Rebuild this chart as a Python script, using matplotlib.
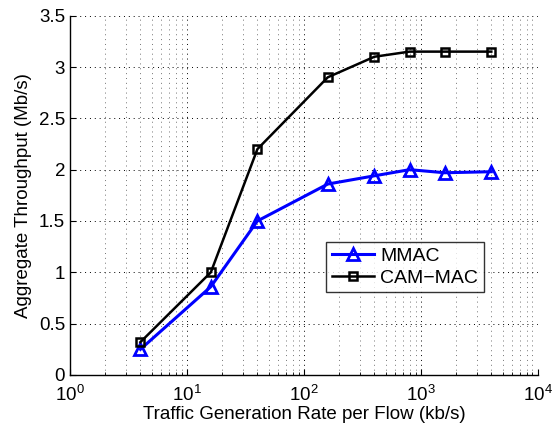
import matplotlib
matplotlib.use("Agg")
import matplotlib.pyplot as plt
from matplotlib.ticker import LogLocator, NullFormatter

plt.rcParams['font.family'] = ['Liberation Sans', 'DejaVu Sans']

rates = [4, 16, 40, 160, 400, 800, 1600, 4000]
mmac = [0.25, 0.86, 1.50, 1.86, 1.94, 2.00, 1.97, 1.98]
cam_mac = [0.32, 1.00, 2.20, 2.90, 3.10, 3.15, 3.15, 3.15]
series_labels = ["MMAC", "CAM\u2212MAC"]
y_ticks = [0, 0.5, 1, 1.5, 2, 2.5, 3, 3.5]
y_tick_labels = ['0', '0.5', '1', '1.5', '2', '2.5', '3', '3.5']
x_label = "Traffic Generation Rate per Flow (kb/s)"
y_label = "Aggregate Throughput (Mb/s)"

fig = plt.figure(figsize=(5.53, 4.30), dpi=100)
ax = fig.add_axes([0.1266, 0.128, 0.846, 0.8355])

ax.plot(rates, mmac, color='#0000ff', lw=2.2, marker='^', ms=9,
        mfc='none', mec='#0000ff', mew=2.0, label=series_labels[0], zorder=3)
ax.plot(rates, cam_mac, color='black', lw=1.8, marker='s', ms=6,
        mfc='none', mec='black', mew=1.8, label=series_labels[1], zorder=4)

ax.set_xscale('log')
ax.set_xlim(1, 1e4)
ax.set_ylim(0, 3.5)
ax.set_yticks(y_ticks, y_tick_labels)
ax.xaxis.set_major_locator(LogLocator(base=10, numticks=10))
ax.xaxis.set_minor_locator(LogLocator(base=10, subs=range(2, 10), numticks=20))
ax.xaxis.set_minor_formatter(NullFormatter())

ax.grid(True, which='major', axis='both', linestyle=(0, (1, 4)), color='black', lw=0.7)
ax.grid(True, which='minor', axis='x', linestyle=(0, (1, 4)), color='0.45', lw=0.7)

for s in ['top', 'right']:
    ax.spines[s].set_visible(False)
ax.spines['left'].set_linewidth(1.0)
ax.spines['bottom'].set_linewidth(1.0)
ax.tick_params(which='both', direction='in', labelsize=13.5)
ax.tick_params(which='major', length=4)
ax.tick_params(which='minor', length=2.5)
ax.tick_params(axis='x', pad=7)

ax.set_xlabel(x_label, fontsize=13.5, labelpad=1)
ax.set_ylabel(y_label, fontsize=13.5, labelpad=5)

leg = ax.legend(loc='upper left', bbox_to_anchor=(325.7/553, 1-241.7/430),
                bbox_transform=fig.transFigure, fontsize=14, frameon=True,
                fancybox=False, edgecolor='black', borderpad=0.3,
                handlelength=2.2, labelspacing=0.2, handletextpad=0.3,
                borderaxespad=0)
leg.get_frame().set_linewidth(1.0)

fig.savefig('out.png', dpi=100)
